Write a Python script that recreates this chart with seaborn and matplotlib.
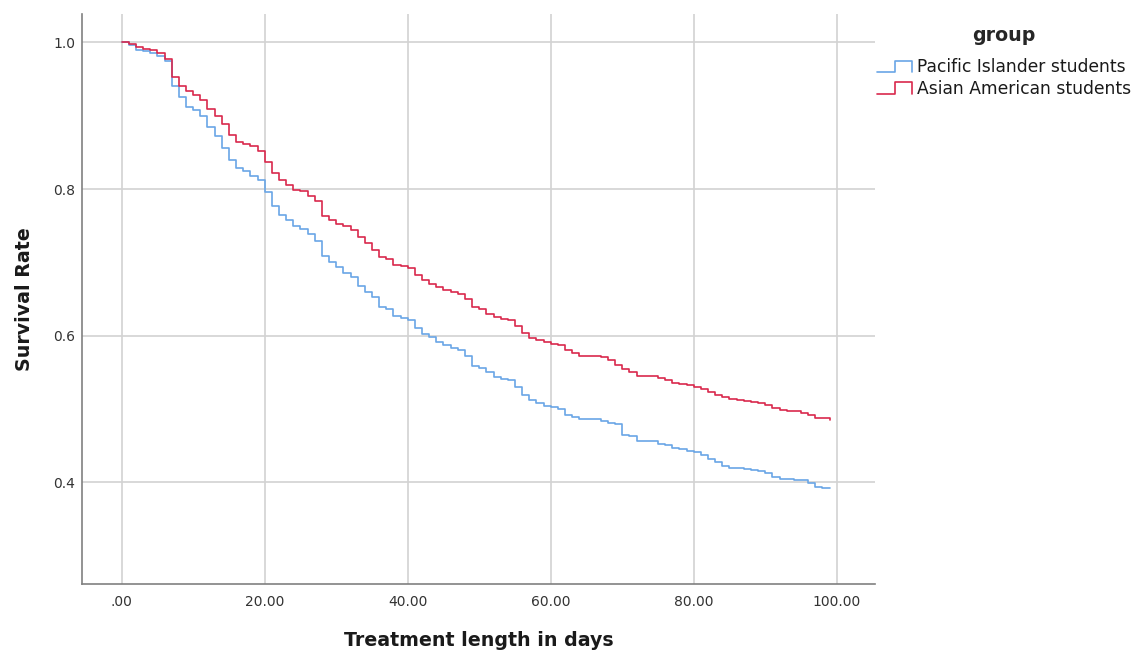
import matplotlib
matplotlib.use("Agg")
import matplotlib.pyplot as plt
import pandas as pd
import seaborn as sns
from matplotlib.legend_handler import HandlerBase
from matplotlib.lines import Line2D

# Survival rate, one value per day (step drops at each day)
days = list(range(100))
pacific = [
    1.000, 0.997, 0.990, 0.988, 0.986, 0.981, 0.974, 0.941, 0.926, 0.912,
    0.908, 0.899, 0.884, 0.872, 0.856, 0.840, 0.828, 0.824, 0.818, 0.812,
    0.796, 0.777, 0.764, 0.758, 0.749, 0.745, 0.738, 0.729, 0.708, 0.700,
    0.693, 0.686, 0.680, 0.668, 0.660, 0.653, 0.639, 0.636, 0.627, 0.624,
    0.621, 0.611, 0.603, 0.598, 0.592, 0.588, 0.583, 0.581, 0.572, 0.559,
    0.556, 0.550, 0.544, 0.541, 0.539, 0.530, 0.519, 0.513, 0.508, 0.504,
    0.503, 0.500, 0.492, 0.489, 0.486, 0.486, 0.486, 0.484, 0.481, 0.479,
    0.465, 0.463, 0.457, 0.456, 0.456, 0.453, 0.451, 0.447, 0.445, 0.443,
    0.441, 0.437, 0.432, 0.428, 0.423, 0.420, 0.419, 0.418, 0.417, 0.415,
    0.413, 0.407, 0.405, 0.404, 0.403, 0.403, 0.399, 0.394, 0.393, 0.392,
]
asian = [
    1.000, 0.998, 0.993, 0.991, 0.989, 0.986, 0.977, 0.953, 0.941, 0.934,
    0.928, 0.922, 0.909, 0.899, 0.888, 0.873, 0.864, 0.861, 0.858, 0.852,
    0.837, 0.822, 0.812, 0.806, 0.799, 0.797, 0.790, 0.783, 0.763, 0.758,
    0.752, 0.749, 0.744, 0.735, 0.727, 0.717, 0.707, 0.705, 0.697, 0.695,
    0.692, 0.683, 0.676, 0.671, 0.667, 0.663, 0.659, 0.657, 0.650, 0.639,
    0.636, 0.630, 0.626, 0.623, 0.621, 0.613, 0.604, 0.597, 0.594, 0.591,
    0.589, 0.588, 0.580, 0.576, 0.573, 0.573, 0.572, 0.571, 0.567, 0.560,
    0.554, 0.551, 0.545, 0.545, 0.545, 0.542, 0.540, 0.536, 0.534, 0.533,
    0.530, 0.527, 0.523, 0.519, 0.516, 0.514, 0.512, 0.511, 0.510, 0.508,
    0.506, 0.501, 0.499, 0.498, 0.497, 0.495, 0.492, 0.488, 0.488, 0.485,
]
groups = ["Pacific Islander students", "Asian American students"]
colors = {"Pacific Islander students": "#6aa6e6", "Asian American students": "#d9294d"}
x_ticks = [0, 20, 40, 60, 80, 100]
y_ticks = [0.4, 0.6, 0.8, 1.0]

df = pd.concat([
    pd.DataFrame({"day": days, "survival": pacific, "group": groups[0]}),
    pd.DataFrame({"day": days, "survival": asian, "group": groups[1]}),
])

sns.set_style("white")
plt.rcParams["font.family"] = ["DejaVu Sans"]

fig = plt.figure(figsize=(11.36, 6.51), dpi=100)
ax = fig.add_axes([82 / 1136, 1 - 584 / 651, 793 / 1136, 570 / 651])

sns.lineplot(
    data=df, x="day", y="survival", hue="group", hue_order=groups,
    palette=colors, drawstyle="steps-post", estimator=None,
    linewidth=1.2, legend=False, ax=ax,
)

ax.set_xlim(-5.55, 105.35)
ax.set_ylim(0.2615, 1.0386)
ax.set_xticks(x_ticks)
ax.set_xticklabels([".00" if t == 0 else f"{t:.2f}" for t in x_ticks])
ax.set_yticks(y_ticks)
ax.set_yticklabels([f"{t:.1f}" for t in y_ticks])
ax.tick_params(axis="x", length=0, pad=8, labelsize=10, labelcolor="#333333")
ax.tick_params(axis="y", length=0, pad=5, labelsize=10, labelcolor="#333333")

ax.grid(True, color="#d2d2d2", linewidth=1.2)
ax.set_axisbelow(True)
for side in ["top", "right"]:
    ax.spines[side].set_visible(False)
for side in ["left", "bottom"]:
    ax.spines[side].set_color("#808080")
    ax.spines[side].set_linewidth(1.2)

ax.set_xlabel("Treatment length in days", fontsize=13.7, fontweight="bold",
              color="#1a1a1a", labelpad=16)
ax.set_ylabel("Survival Rate", fontsize=13.7, fontweight="bold",
              color="#1a1a1a", labelpad=14)


# legend handle drawn as a small step
class StepHandler(HandlerBase):
    def create_artists(self, legend, orig_handle, xdescent, ydescent,
                       width, height, fontsize, trans):
        x0, y0 = -xdescent, -ydescent
        lo, hi = y0 + 0.0 * height, y0 + 0.95 * height
        xs = [x0, x0 + 0.5 * width, x0 + 0.5 * width, x0 + width, x0 + width]
        ys = [lo, lo, hi, hi, lo]
        line = Line2D(xs, ys, color=orig_handle.get_color(), linewidth=1.2)
        line.set_transform(trans)
        return [line]


handles = [Line2D([], [], color=colors[g]) for g in groups]
leg = ax.legend(
    handles, groups, title="group", loc="upper left",
    bbox_to_anchor=(877 / 1136, 1 - 26 / 651), bbox_transform=fig.transFigure,
    frameon=False, fontsize=12.3, handlelength=2.05, handletextpad=0.3,
    labelspacing=0.2, borderpad=0, borderaxespad=0,
    handler_map={Line2D: StepHandler()},
)
leg.get_title().set_fontsize(13.7)
leg.get_title().set_fontweight("bold")
leg._legend_box.sep = 9.5
for t in leg.get_texts():
    t.set_color("#1a1a1a")

fig.savefig("out.png", dpi=100)
